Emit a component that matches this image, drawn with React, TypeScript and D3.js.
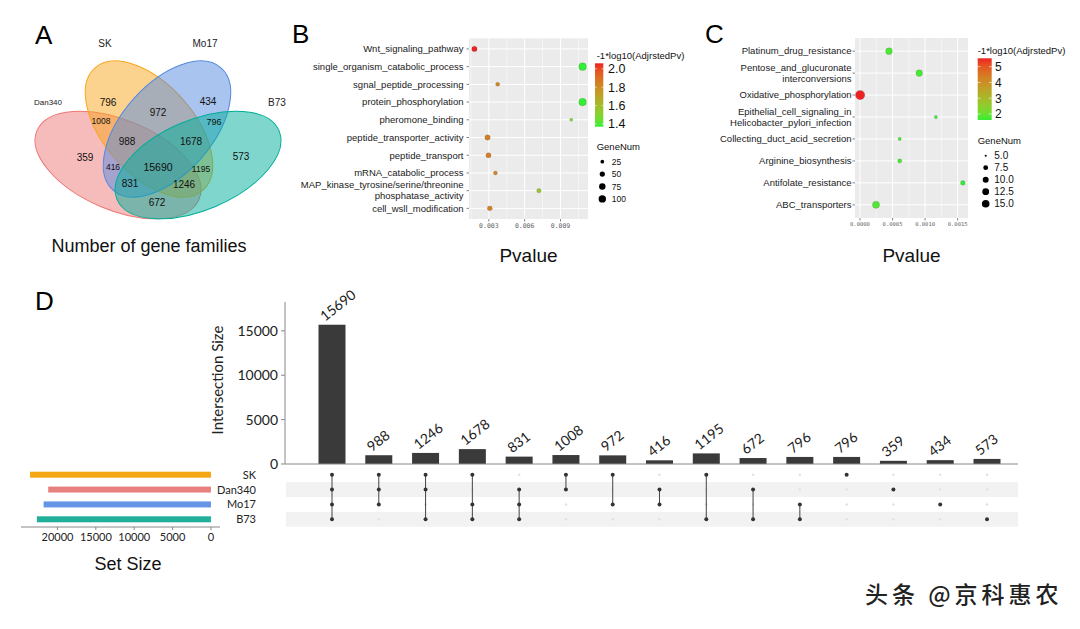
import React from "react";
import * as d3 from "d3";

// ---------------- DATA ----------------
const setNames = ["SK", "Dan340", "Mo17", "B73"];
const setSizes = [23573, 21210, 21805, 22681];
const intersectionSizes = [15690, 988, 1246, 1678, 831, 1008, 972, 416, 1195, 672, 796, 796, 359, 434, 573];
const intersectionMembers = [
  ["SK", "Dan340", "Mo17", "B73"],
  ["SK", "Dan340", "Mo17"],
  ["SK", "Dan340", "B73"],
  ["SK", "Mo17", "B73"],
  ["Dan340", "Mo17", "B73"],
  ["SK", "Dan340"],
  ["SK", "Mo17"],
  ["Dan340", "Mo17"],
  ["SK", "B73"],
  ["Dan340", "B73"],
  ["Mo17", "B73"],
  ["SK"],
  ["Dan340"],
  ["Mo17"],
  ["B73"],
];
const upsetYTicks = [0, 5000, 10000, 15000];
const setSizeTicks = [0, 5000, 10000, 15000, 20000];

const bTerms = [
  "Wnt_signaling_pathway",
  "single_organism_catabolic_process",
  "sgnal_peptide_processing",
  "protein_phosphorylation",
  "pheromone_binding",
  "peptide_transporter_activity",
  "peptide_transport",
  "mRNA_catabolic_process",
  "MAP_kinase_tyrosine/serine/threonine\nphosphatase_activity",
  "cell_wsll_modification",
];
const bPvalue = [0.00179, 0.01085, 0.00374, 0.01085, 0.0099, 0.00289, 0.00297, 0.00355, 0.00719, 0.00308];
const bLogAdj = [2.06, 1.37, 1.82, 1.37, 1.46, 1.85, 1.85, 1.83, 1.56, 1.84];
const bGeneNum = [53, 108, 29, 108, 16, 53, 49, 29, 35, 45];
const bXTicks = [0.003, 0.006, 0.009];
const bColorTicks = [1.4, 1.6, 1.8, 2.0];
const bSizeBreaks = [25, 50, 75, 100];

const cTerms = [
  "Platinum_drug_resistance",
  "Pentose_and_glucuronate\ninterconversions",
  "Oxidative_phosphorylation",
  "Epithelial_cell_signaling_in\nHelicobacter_pylori_infection",
  "Collecting_duct_acid_secretion",
  "Arginine_biosynthesis",
  "Antifolate_resistance",
  "ABC_transporters",
];
const cPvalue = [0.000445, 0.00091, 0.000002, 0.001165, 0.00061, 0.00061, 0.00158, 0.000246];
const cLogAdj = [1.75, 1.72, 5.53, 1.66, 1.68, 1.7, 1.62, 1.8];
const cGeneNum = [12, 12, 22, 5.5, 5.5, 6.5, 7.5, 13.5];
const cXTicks = [0, 0.0005, 0.001, 0.0015];
const cColorTicks = [2, 3, 4, 5];
const cSizeBreaks = [5, 7.5, 10, 12.5, 15];

// ---------------- STYLE / LAYOUT ----------------
const ARIAL = "'Liberation Sans', Arial, sans-serif";
const GEO = "Lato, 'DejaVu Sans', sans-serif";
const MONO = "'DejaVu Sans Mono', monospace";
const LOW = "#33ee33";
const HIGH = "#ee2222";

// fixed 4-ellipse Venn geometry (layout, like VennDiagram's quad template)
const VENN_LAYOUT: Record<string, any> = {
  Dan340: { cx: 118, cy: 165, rx: 88, ry: 45, a: 23, color: "#ee7777" },
  SK: { cx: 149, cy: 129, rx: 81.5, ry: 45, a: 48.5, color: "#f7a61e" },
  Mo17: { cx: 167, cy: 129, rx: 81.5, ry: 45, a: -48.5, color: "#5389e0" },
  B73: { cx: 198, cy: 165, rx: 88, ry: 45, a: -23, color: "#00ad99" },
};
const vennDrawOrder = ["Dan340", "SK", "Mo17", "B73"];
// template anchor of each Venn region label (keyed by membership), with font size
const VENN_LABEL_ANCHOR: Record<string, [number, number, number]> = {
  "SK": [108, 102, 10],
  "SK|Mo17": [158, 112, 10],
  "Mo17": [208, 101, 10],
  "Dan340|SK": [101, 121, 8.5],
  "Mo17|B73": [214, 122, 9],
  "Dan340|SK|Mo17": [127, 141, 10],
  "SK|Mo17|B73": [191, 141, 10],
  "Dan340": [85, 157, 10],
  "B73": [241, 156, 10],
  "Dan340|Mo17": [113, 167, 8.5],
  "Dan340|SK|Mo17|B73": [158, 167, 10.5],
  "SK|B73": [201, 169, 8.5],
  "Dan340|Mo17|B73": [130, 183, 10],
  "Dan340|SK|B73": [184, 184, 10],
  "Dan340|B73": [157, 202, 10],
};
const SET_COLORS: Record<string, string> = { SK: "#f4a712", Dan340: "#e98080", Mo17: "#6595e6", B73: "#20b09a" };

function sizeScale(vmin: number, vmax: number, rmin: number, rmax: number) {
  const t = d3.scaleLinear().domain([vmin, vmax]).range([0, 1]);
  return (v: number) => rmin + (rmax - rmin) * Math.sqrt(Math.max(0, t(v)));
}

function Venn() {
  const labels = intersectionMembers.map((m, i) => {
    const key = vennDrawOrder.filter((n) => m.includes(n)).join("|");
    const [x, y, fs] = VENN_LABEL_ANCHOR[key];
    return { x, y, fs, text: String(intersectionSizes[i]) };
  });
  return (
    <g>
      {vennDrawOrder.map((n) => {
        const e = VENN_LAYOUT[n];
        return (
          <ellipse key={n} cx={e.cx} cy={e.cy} rx={e.rx} ry={e.ry}
            transform={`rotate(${e.a} ${e.cx} ${e.cy})`}
            fill={e.color} fillOpacity={0.5} stroke={e.color} strokeWidth={1} />
        );
      })}
      {labels.map((l, i) => (
        <text key={i} x={l.x} y={l.y} dy="0.35em" textAnchor="middle" fontFamily={ARIAL}
          fontSize={l.fs} fill="#111">{l.text}</text>
      ))}
      <text x={105} y={47} textAnchor="middle" fontFamily={ARIAL} fontSize={10} fill="#222">SK</text>
      <text x={205} y={47} textAnchor="middle" fontFamily={ARIAL} fontSize={10} fill="#222">Mo17</text>
      <text x={48} y={105} textAnchor="middle" fontFamily={ARIAL} fontSize={8} fill="#222">Dan340</text>
      <text x={277} y={106} textAnchor="middle" fontFamily={ARIAL} fontSize={10} fill="#222">B73</text>
      <text x={149} y={252} textAnchor="middle" fontFamily={ARIAL} fontSize={18} fill="#111">Number of gene families</text>
    </g>
  );
}

function DotPlot(props: any) {
  const { id, terms, pvals, logAdj, geneNum, box, xTicks, xFmt, tickFont, tickY, labelRight,
    cb, sl, size } = props;
  const ext = d3.extent(pvals) as [number, number];
  const pad = (ext[1] - ext[0]) * 0.05;
  const x = d3.scaleLinear().domain([ext[0] - pad, ext[1] + pad]).range([box.x0, box.x1]);
  const y = d3.scalePoint<string>().domain(terms).range([box.y0, box.y1]).padding(0.6);
  const cext = d3.extent(logAdj) as [number, number];
  const color = d3.scaleLinear<string>().domain(cext).range([LOW, HIGH]).interpolate(d3.interpolateLab);
  const cy = d3.scaleLinear().domain(cext).range([cb.y1, cb.y0]);
  const majors = xTicks;
  const step = majors[1] - majors[0];
  const minors: number[] = [];
  const dom = x.domain();
  for (let v = majors[0] - step / 2; v <= dom[1]; v += step) if (v >= dom[0]) minors.push(v);
  const stops = d3.range(0, 1.0001, 0.1);
  return (
    <g>
      <defs>
        <linearGradient id={id} x1="0" y1="1" x2="0" y2="0">
          {stops.map((s) => (
            <stop key={s} offset={s} stopColor={color(cext[0] + s * (cext[1] - cext[0]))} />
          ))}
        </linearGradient>
      </defs>
      <rect x={box.x0} y={box.y0} width={box.x1 - box.x0} height={box.y1 - box.y0} fill="#ebebeb" />
      {minors.map((v) => (
        <line key={"m" + v} x1={x(v)} x2={x(v)} y1={box.y0} y2={box.y1} stroke="#fff" strokeWidth={0.5} />
      ))}
      {majors.map((v) => (
        <line key={"M" + v} x1={x(v)} x2={x(v)} y1={box.y0} y2={box.y1} stroke="#fff" strokeWidth={1} />
      ))}
      {terms.map((t: string) => (
        <line key={"h" + t} x1={box.x0} x2={box.x1} y1={y(t)} y2={y(t)} stroke="#fff" strokeWidth={1} />
      ))}
      {terms.map((t: string) => (
        <line key={"yt" + t} x1={box.x0 - 2.5} x2={box.x0} y1={y(t)} y2={y(t)} stroke="#333" strokeWidth={0.6} />
      ))}
      {majors.map((v) => (
        <line key={"xt" + v} x1={x(v)} x2={x(v)} y1={box.y1} y2={box.y1 + 2.5} stroke="#333" strokeWidth={0.6} />
      ))}
      {terms.map((t: string) => {
        const lines = t.split("\n");
        const y0 = (y(t) as number) - ((lines.length - 1) * 11) / 2;
        return (
          <text key={"yl" + t} textAnchor="end" fontFamily={ARIAL} fontSize={9.5} fill="#1a1a1a">
            {lines.map((ln, k) => (
              <tspan key={k} x={labelRight} y={y0 + k * 11} dy="0.35em">{ln}</tspan>
            ))}
          </text>
        );
      })}
      {majors.map((v) => (
        <text key={"xl" + v} x={x(v)} y={tickY} textAnchor="middle" fontFamily={MONO} fontSize={tickFont} fill="#666">{xFmt(v)}</text>
      ))}
      {terms.map((t: string, i: number) => (
        <circle key={"pt" + t} cx={x(pvals[i])} cy={y(t)} r={size(geneNum[i])} fill={color(logAdj[i])}
          stroke="#444" strokeOpacity={0.45} strokeWidth={0.4} />
      ))}
      <text x={(box.x0 + box.x1) / 2} y={262} textAnchor="middle" fontFamily={ARIAL} fontSize={19} fill="#111">Pvalue</text>
      <text x={cb.titleX} y={cb.titleY} fontFamily={ARIAL} fontSize={9.5} fill="#111">-1*log10(AdjrstedPv)</text>
      <rect x={cb.x} y={cb.y0} width={cb.w} height={cb.y1 - cb.y0} fill={`url(#${id})`} />
      {cb.ticks.map((v: number) => (
        <g key={"cb" + v}>
          <line x1={cb.x} x2={cb.x + cb.w * 0.2} y1={cy(v)} y2={cy(v)} stroke="#fff" strokeWidth={0.6} />
          <line x1={cb.x + cb.w * 0.8} x2={cb.x + cb.w} y1={cy(v)} y2={cy(v)} stroke="#fff" strokeWidth={0.6} />
          <text x={cb.labelX} y={cy(v)} dy="0.36em" fontFamily={ARIAL} fontSize={cb.labelSize} fill="#111">{cb.fmt(v)}</text>
        </g>
      ))}
      <text x={cb.titleX} y={sl.titleY} fontFamily={ARIAL} fontSize={9.5} fill="#111">GeneNum</text>
      {sl.breaks.map((v: number, k: number) => (
        <g key={"sl" + v}>
          <circle cx={sl.x} cy={sl.y0 + k * sl.dy} r={size(v)} fill="#000" />
          <text x={sl.labelX} y={sl.y0 + k * sl.dy} dy="0.36em" fontFamily={ARIAL} fontSize={sl.fontSize} fill="#111">{sl.fmt(v)}</text>
        </g>
      ))}
    </g>
  );
}

function UpSet() {
  const idx = intersectionSizes.map((_, i) => i);
  const x = d3.scalePoint<number>().domain(idx).range([332, 987]);
  const yBar = d3.scaleLinear().domain([0, 18250]).range([464, 302]);
  const row = d3.scalePoint<string>().domain(setNames).range([474.7, 519.3]);
  const rowStep = row.step();
  const smax = d3.max(setSizes) as number;
  const xs = d3.scaleLinear().domain([-0.05 * smax, 1.05 * smax]).range([220, 21]);
  const bw = 27;
  return (
    <g>
      {setNames.map((s, i) => i % 2 === 1 ? (
        <rect key={"st" + s} x={286} y={(row(s) as number) - rowStep / 2} width={1018 - 286} height={rowStep} fill="#f2f2f2" />
      ) : null)}
      {idx.map((i) => (
        <rect key={"b" + i} x={(x(i) as number) - bw / 2} y={yBar(intersectionSizes[i])} width={bw}
          height={yBar(0) - yBar(intersectionSizes[i])} fill="#3a3a3a" />
      ))}
      {idx.map((i) => (
        <text key={"bl" + i} transform={`translate(${(x(i) as number) - 7},${yBar(intersectionSizes[i]) - 3}) rotate(-38)`}
          fontFamily={GEO} fontSize={14} fill="#222">{intersectionSizes[i]}</text>
      ))}
      <line x1={285} x2={285} y1={302} y2={464} stroke="#888" strokeWidth={1} />
      <line x1={285} x2={1018} y1={464} y2={464} stroke="#888" strokeWidth={1} />
      {upsetYTicks.map((v) => (
        <g key={"yt" + v}>
          <line x1={281} x2={285} y1={yBar(v)} y2={yBar(v)} stroke="#888" strokeWidth={1} />
          <text x={278} y={yBar(v)} dy="0.36em" textAnchor="end" fontFamily={GEO} fontSize={14} fill="#222">{v}</text>
        </g>
      ))}
      <text transform={`translate(223,380) rotate(-90)`} textAnchor="middle" fontFamily={GEO} fontSize={15} fill="#222">Intersection Size</text>
      {idx.map((i) => setNames.map((s) => (
        <circle key={"d" + i + s} cx={x(i)} cy={row(s)} r={1.3} fill="#e2e2e2" />
      )))}
      {idx.map((i) => {
        const ys = intersectionMembers[i].map((s) => row(s) as number);
        return (
          <g key={"c" + i}>
            {ys.length > 1 && (
              <line x1={x(i)} x2={x(i)} y1={d3.min(ys)} y2={d3.max(ys)} stroke="#444" strokeWidth={1} />
            )}
            {ys.map((yy, k) => (
              <circle key={k} cx={x(i)} cy={yy} r={2} fill="#333" />
            ))}
          </g>
        );
      })}
      {setNames.map((s) => (
        <text key={"sn" + s} x={256} y={row(s)} dy="0.36em" textAnchor="end" fontFamily={GEO} fontSize={11} fill="#222">{s}</text>
      ))}
      {setNames.map((s, i) => (
        <rect key={"ss" + s} x={xs(setSizes[i])} y={(row(s) as number) - 3} width={xs(0) - xs(setSizes[i])} height={6} fill={SET_COLORS[s]} />
      ))}
      <line x1={21} x2={220} y1={527} y2={527} stroke="#888" strokeWidth={1} />
      {setSizeTicks.map((v) => (
        <g key={"sst" + v}>
          <line x1={xs(v)} x2={xs(v)} y1={527} y2={530} stroke="#888" strokeWidth={1} />
          <text x={xs(v)} y={541} textAnchor="middle" fontFamily={GEO} fontSize={11} fill="#222">{v}</text>
        </g>
      ))}
      <text x={128} y={570} textAnchor="middle" fontFamily={ARIAL} fontSize={18} fill="#111">Set Size</text>
    </g>
  );
}

export default function App() {
  const W = 1080, H = 629;
  const bSize = sizeScale(0, 100, 0, 3.7);
  const cSize = sizeScale(5, 15, 1, 3.8);
  return (
    <div style={{ position: "absolute", left: 0, top: 0, width: W, height: H, background: "#fff" }}>
      <svg width={W} height={H} viewBox={`0 0 ${W} ${H}`} style={{ display: "block" }}>
        <rect width={W} height={H} fill="#fff" />
        <text x={35} y={44} fontFamily={ARIAL} fontSize={26} fill="#000">A</text>
        <text x={292} y={43} fontFamily={ARIAL} fontSize={26} fill="#000">B</text>
        <text x={705} y={43} fontFamily={ARIAL} fontSize={26} fill="#000">C</text>
        <text x={35} y={310} fontFamily={ARIAL} fontSize={26} fill="#000">D</text>
        <Venn />
        <DotPlot id="gradB" terms={bTerms} pvals={bPvalue} logAdj={bLogAdj} geneNum={bGeneNum}
          box={{ x0: 469, x1: 588, y0: 38.3, y1: 219 }} xTicks={bXTicks} xFmt={d3.format(".3f")}
          tickFont={6.5} tickY={227.5} labelRight={463.5} size={bSize}
          cb={{ x: 595, w: 8.3, y0: 63.3, y1: 126.7, ticks: bColorTicks, fmt: d3.format(".1f"), titleX: 596.7, titleY: 58.5, labelX: 608, labelSize: 12.5 }}
          sl={{ titleY: 150, x: 602.3, y0: 161.7, dy: 12.4, labelX: 611.7, breaks: bSizeBreaks, fmt: d3.format("d"), fontSize: 8.5 }} />
        <DotPlot id="gradC" terms={cTerms} pvals={cPvalue} logAdj={cLogAdj} geneNum={cGeneNum}
          box={{ x0: 855, x1: 968, y0: 38, y1: 218 }} xTicks={cXTicks} xFmt={d3.format(".4f")}
          tickFont={5.5} tickY={226} labelRight={851.5} size={cSize}
          cb={{ x: 977.7, w: 14, y0: 58.3, y1: 120, ticks: cColorTicks, fmt: d3.format("d"), titleX: 977.7, titleY: 54, labelX: 995, labelSize: 12 }}
          sl={{ titleY: 143.5, x: 985.7, y0: 155.7, dy: 12, labelX: 994.3, breaks: cSizeBreaks, fmt: d3.format(".1f"), fontSize: 10 }} />
        <UpSet />
        <text x={865} y={603} fontFamily="'Noto Sans CJK SC', sans-serif" fontSize={23} fontWeight={500} letterSpacing={4}
          fill="#222" stroke="#fff" strokeWidth={0.8} paintOrder="stroke">头条 @京科惠农</text>
      </svg>
    </div>
  );
}
